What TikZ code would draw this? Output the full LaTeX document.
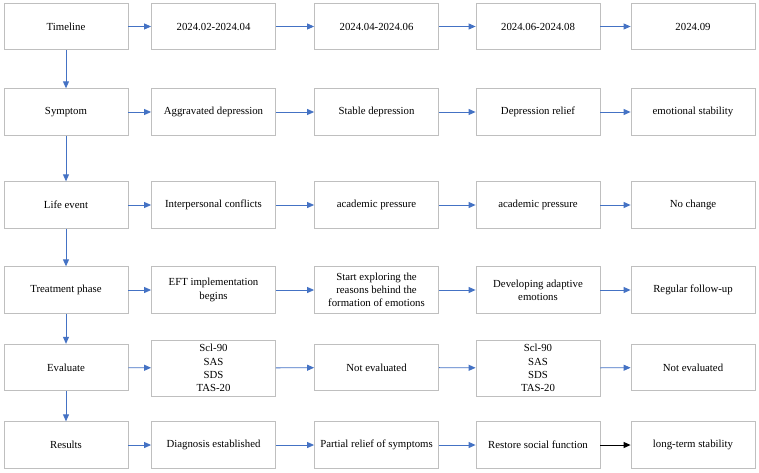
\documentclass[tikz,border=0pt]{standalone}
\usepackage{fontspec}
\setmainfont{Liberation Serif}
\usetikzlibrary{arrows.meta}
\definecolor{arrowblue}{HTML}{4472C4}
\definecolor{boxgray}{HTML}{BFBFBF}
\begin{document}
\begin{tikzpicture}[x=1pt,y=-1pt,
  box/.style={draw=boxgray, line width=0.8pt, minimum width=124pt, minimum height=46.5pt,
    align=center, font=\fontsize{10.8}{13.2}\selectfont, inner sep=1pt},
  tallbox/.style={box, minimum height=56pt},
  conn/.style={draw=arrowblue, line width=0.9pt, -{Triangle[length=7pt,width=6pt]}},
  bconn/.style={draw=black, line width=0.9pt, -{Triangle[length=7pt,width=6pt]}}
]
\useasboundingbox (0,0) rectangle (759,473);
% columns: 66, 213.5, 376.5, 538, 693
% rows: 26.5, 112, 205, 290, 367.5, 445
\node[box] (t0) at (66,26.5) {Timeline};
\node[box] (t1) at (213.5,26.5) {2024.02-2024.04};
\node[box] (t2) at (376.5,26.5) {2024.04-2024.06};
\node[box] (t3) at (538,26.5) {2024.06-2024.08};
\node[box] (t4) at (693,26.5) {2024.09};

\node[box] (s0) at (66,112) {Symptom};
\node[box] (s1) at (213.5,112) {Aggravated depression};
\node[box] (s2) at (376.5,112) {Stable depression};
\node[box] (s3) at (538,112) {Depression relief};
\node[box] (s4) at (693,112) {emotional stability};

\node[box] (l0) at (66,205) {Life event};
\node[box] (l1) at (213.5,205) {Interpersonal conflicts};
\node[box] (l2) at (376.5,205) {academic pressure};
\node[box] (l3) at (538,205) {academic pressure};
\node[box] (l4) at (693,205) {No change};

\node[box] (p0) at (66,290) {Treatment phase};
\node[box] (p1) at (213.5,290) {EFT implementation\\begins};
\node[box] (p2) at (376.5,290) {Start exploring the\\reasons behind the\\formation of emotions};
\node[box] (p3) at (538,290) {Developing adaptive\\emotions};
\node[box] (p4) at (693,290) {Regular follow-up};

\node[box] (e0) at (66,367.5) {Evaluate};
\node[tallbox] (e1) at (213.5,368) {Scl-90\\SAS\\SDS\\TAS-20};
\node[box] (e2) at (376.5,367.5) {Not evaluated};
\node[tallbox] (e3) at (538,368) {Scl-90\\SAS\\SDS\\TAS-20};
\node[box] (e4) at (693,367.5) {Not evaluated};

\node[box] (r0) at (66,445) {Results};
\node[box] (r1) at (213.5,445) {Diagnosis established};
\node[box] (r2) at (376.5,445) {Partial relief of symptoms};
\node[box] (r3) at (538,445) {Restore social function};
\node[box] (r4) at (693,445) {long-term stability};

\foreach \a/\b in {t0/s0, s0/l0, l0/p0, p0/e0, e0/r0}
  \draw[conn] (\a) -- (\b);
\foreach \r in {t,s,l,p,e}
  \foreach \i/\j in {0/1,1/2,2/3,3/4}
    \draw[conn] (\r\i) -- (\r\j);
\foreach \i/\j in {0/1,1/2,2/3}
  \draw[conn] (r\i) -- (r\j);
\draw[bconn] (r3) -- (r4);
\end{tikzpicture}
\end{document}
